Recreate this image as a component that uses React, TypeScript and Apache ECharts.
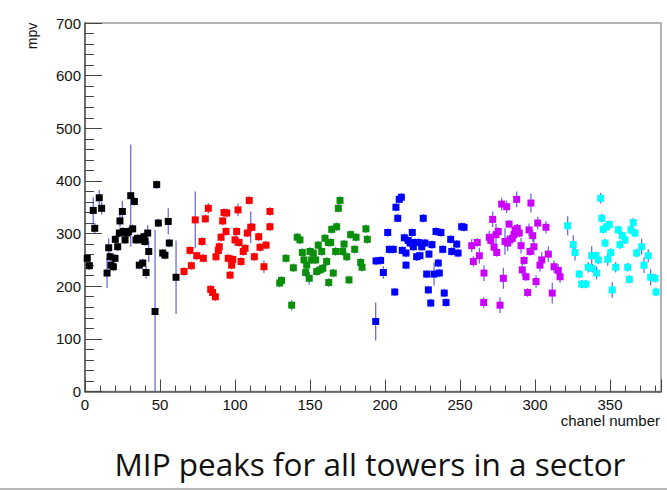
import React, { useEffect, useRef } from "react";
import * as echarts from "echarts";

// [channel, mpv, error]
const blackPts: [number, number, number][] = [
  [1.5, 253, 8], [2.9, 239, 8], [5.5, 344, 25], [6.5, 310, 10], [9.5, 368, 15], [11.1, 348, 12],
  [14.7, 225, 28], [15.8, 273, 18], [16.7, 256, 8], [17.3, 240, 8], [18.9, 237, 8], [20, 253, 8],
  [20.2, 289, 8], [21.8, 275, 8], [22.9, 301, 8], [23.3, 324, 12], [24.9, 342, 20], [25.5, 304, 8],
  [26.7, 288, 8], [27.8, 301, 8], [28.9, 304, 8], [30.5, 372, 97], [31.8, 309, 8], [32.9, 361, 8],
  [34, 288, 8], [35.1, 291, 8], [36.2, 240, 8], [37.8, 288, 8], [38.5, 244, 8], [39.3, 294, 8],
  [40, 285, 8], [40.7, 226, 12], [41.8, 301, 15], [42.5, 266, 20], [46.7, 152, 155], [47.8, 393, 8],
  [48.9, 320, 8], [51.8, 263, 8], [53.3, 259, 8], [55.5, 323, 25], [56.2, 282, 8], [60.7, 217, 70],
];
const redPts: [number, number, number][] = [
  [66, 228, 8], [70, 268, 8], [70.9, 239, 8], [73.5, 326, 54], [74.5, 258, 8], [78, 285, 8],
  [78.9, 253, 8], [80.2, 328, 8], [82.2, 348, 10], [83.8, 194, 8], [85.1, 188, 8], [86.9, 180, 8],
  [87.3, 256, 8], [88.9, 268, 8], [89.5, 275, 8], [90.7, 293, 8], [91.8, 324, 8], [92.7, 340, 8],
  [94.5, 339, 8], [94, 304, 8], [95.5, 253, 8], [97.8, 240, 8], [98.5, 251, 8], [96.7, 221, 8],
  [100, 288, 12], [101.1, 304, 8], [102, 345, 12], [102.7, 283, 8], [104, 247, 8], [105.5, 266, 8],
  [106.7, 272, 8], [108.2, 301, 8], [109.5, 363, 8], [110.5, 312, 30], [111.3, 312, 8], [112.9, 256, 8],
  [115.8, 294, 8], [116.7, 274, 8], [119.3, 237, 12], [120.7, 278, 8], [123.3, 342, 8], [123.3, 313, 8],
];
const greenPts: [number, number, number][] = [
  [129.8, 206, 8], [131, 211, 8], [134, 253, 8], [137.8, 164, 10], [138.9, 235, 8], [141.5, 293, 8],
  [143.3, 288, 8], [144.9, 264, 8], [146, 250, 8], [147.1, 226, 8], [147.8, 240, 8], [149.5, 215, 12],
  [150, 266, 8], [151.1, 250, 8], [152.2, 263, 8], [153.8, 250, 8], [154.5, 228, 8], [155.5, 278, 8],
  [156.7, 231, 8], [157.8, 266, 8], [158.5, 234, 8], [160, 291, 8], [161.1, 247, 8], [162.2, 283, 8],
  [162.5, 207, 8], [163.8, 283, 8], [164.5, 308, 8], [165.5, 225, 8], [167.1, 266, 8], [167.8, 313, 8],
  [168.9, 348, 8], [170, 363, 8], [171.8, 266, 8], [172.7, 280, 8], [174.5, 256, 8], [176, 212, 8],
  [177.1, 298, 8], [179.8, 270, 8], [180.7, 293, 8], [183.8, 245, 8], [184.7, 236, 8], [187.3, 309, 8],
  [188.2, 289, 8],
];
const bluePts: [number, number, number][] = [
  [193.8, 133, 36], [194, 248, 8], [197.1, 249, 8], [198.9, 226, 12], [201.8, 302, 8], [202.9, 270, 8],
  [205.5, 270, 8], [206.5, 189, 8], [207.3, 350, 8], [208.5, 329, 8], [209.5, 365, 8], [210.9, 369, 8],
  [211.5, 268, 8], [212.9, 292, 8], [214, 263, 8], [214, 240, 8], [215.5, 287, 8], [216.7, 282, 8],
  [218.2, 302, 8], [218.9, 275, 8], [220, 283, 8], [221.1, 256, 8], [222.2, 283, 8], [223.3, 258, 8],
  [224.5, 275, 8], [225.5, 329, 8], [226.7, 282, 8], [227.8, 223, 8], [228.9, 193, 8], [229.3, 261, 8],
  [230.5, 168, 8], [231.3, 279, 8], [232.7, 223, 22], [234, 304, 8], [235.5, 244, 8], [236.2, 225, 8],
  [237.3, 302, 8], [238.5, 270, 8], [239.5, 187, 8], [240.7, 169, 8], [243.8, 289, 8], [244.5, 266, 8],
  [247.8, 280, 8], [248.7, 263, 8], [251.1, 313, 8], [252.7, 312, 8],
];
const magentaPts: [number, number, number][] = [
  [257.8, 277, 12], [258.9, 247, 10], [261.5, 283, 8], [262.9, 258, 15], [266, 225, 15], [265.8, 169, 10],
  [269.5, 293, 12], [270.5, 287, 8], [271.8, 327, 15], [272.7, 274, 8], [274, 298, 20], [274.5, 264, 8],
  [275.5, 304, 8], [276.7, 164, 15], [277.8, 356, 12], [278.9, 215, 20], [280, 285, 25], [281.1, 351, 12],
  [281.8, 282, 15], [282.7, 318, 8], [283.3, 288, 8], [284.9, 291, 8], [286, 298, 8], [286.7, 307, 8],
  [287.8, 365, 15], [288.2, 310, 8], [289.5, 301, 8], [290.7, 277, 15], [291.5, 231, 12], [292.7, 249, 8],
  [294, 218, 8], [295.1, 188, 8], [296, 307, 12], [296.7, 266, 8], [297.3, 358, 18], [298.5, 296, 12],
  [299.3, 275, 15], [300.7, 209, 12], [301.8, 320, 12], [303.3, 240, 12], [304.5, 250, 15], [307.3, 312, 12],
  [308.9, 261, 15], [311.5, 187, 20], [312.7, 237, 12], [315.5, 230, 12], [316.7, 218, 12],
];
const cyanPts: [number, number, number][] = [
  [321.8, 315, 18], [325.5, 279, 18], [326.7, 264, 15], [329.5, 223, 8], [331.1, 204, 8], [334, 204, 8],
  [335.5, 236, 10], [337.8, 258, 18], [338.2, 234, 8], [340.7, 258, 8], [341.1, 225, 12], [342.2, 250, 8],
  [343.8, 367, 10], [344.5, 329, 8], [345.5, 308, 8], [346.7, 282, 8], [347.8, 313, 8], [348.5, 251, 12],
  [349.5, 317, 8], [350.5, 264, 8], [351.5, 193, 15], [353.8, 236, 10], [355.5, 307, 8], [356.7, 279, 8],
  [358.2, 296, 8], [360, 288, 8], [361.8, 236, 8], [362.9, 213, 8], [364, 307, 8], [365.5, 321, 8],
  [366.7, 301, 8], [367.8, 263, 8], [371.1, 275, 15], [372.7, 240, 15], [375.5, 258, 12], [377.1, 217, 15],
  [380, 215, 8], [380.7, 189, 8],
];

const groups = [
  { name: "black", color: "#000000", pts: blackPts },
  { name: "red", color: "#ff0000", pts: redPts },
  { name: "green", color: "#0a8f0a", pts: greenPts },
  { name: "blue", color: "#0000ff", pts: bluePts },
  { name: "magenta", color: "#cc00ff", pts: magentaPts },
  { name: "cyan", color: "#00ffff", pts: cyanPts },
];

const X_MIN = 0;
const X_MAX = 384;
const Y_MIN = 0;
const Y_MAX = 700;
const FONT = "'Liberation Sans', Arial, Helvetica, sans-serif";

export default function App() {
  const ref = useRef<HTMLDivElement>(null);
  useEffect(() => {
    if (!ref.current) return;
    const chart = echarts.init(ref.current, undefined, { renderer: "svg" });
    const errSeries = groups.map((g) => ({
      type: "custom",
      name: g.name + "-err",
      xAxisIndex: 0,
      yAxisIndex: 0,
      data: g.pts,
      encode: { x: 0, y: 1 },
      z: 2,
      renderItem: (_params: any, api: any) => {
        const x = api.value(0);
        const y = api.value(1);
        const e = api.value(2);
        const p1 = api.coord([x, Math.min(Y_MAX, y + e)]);
        const p2 = api.coord([x, Math.max(Y_MIN, y - e)]);
        return {
          type: "line",
          shape: { x1: p1[0], y1: p1[1], x2: p2[0], y2: p2[1] },
          style: { stroke: "#2b2bd0", lineWidth: 1.2, opacity: 0.75 },
        };
      },
    }));
    const ptSeries = groups.map((g) => ({
      type: "scatter",
      name: g.name,
      xAxisIndex: 0,
      yAxisIndex: 0,
      data: g.pts.map((p) => [p[0], p[1]]),
      symbol: "rect",
      symbolSize: 7,
      itemStyle: { color: g.color, opacity: 1 },
      z: 3,
    }));
    chart.setOption({
      animation: false,
      grid: {
        left: 85,
        top: 23,
        right: 6,
        bottom: 98.5,
        show: true,
        borderColor: "#999999",
        borderWidth: 1.5,
        backgroundColor: "transparent",
      },
      xAxis: [
        {
          type: "value",
          min: X_MIN,
          max: X_MAX,
          interval: 50,
          position: "bottom",
          axisLine: { show: true, onZero: false, lineStyle: { color: "#555", width: 1.5 } },
          axisTick: { show: true, inside: true, length: 12, lineStyle: { color: "#444", width: 1 } },
          axisLabel: {
            show: true,
            fontSize: 15,
            color: "#111",
            fontFamily: FONT,
            margin: 5,
            formatter: (v: number) => (v % 50 === 0 ? String(v) : ""),
          },
          splitLine: { show: false },
        },
        {
          type: "value",
          min: X_MIN,
          max: X_MAX,
          interval: 10,
          position: "bottom",
          axisLine: { show: false, onZero: false },
          axisTick: { show: true, inside: true, length: 6, lineStyle: { color: "#444", width: 1 } },
          axisLabel: { show: false },
          splitLine: { show: false },
        },
      ],
      yAxis: [
        {
          type: "value",
          min: Y_MIN,
          max: Y_MAX,
          interval: 100,
          position: "left",
          axisLine: { show: true, onZero: false, lineStyle: { color: "#555", width: 1.5 } },
          axisTick: { show: true, inside: true, length: 17, lineStyle: { color: "#444", width: 1 } },
          axisLabel: { show: true, fontSize: 15, color: "#111", fontFamily: FONT, margin: 4 },
          splitLine: { show: false },
        },
        {
          type: "value",
          min: Y_MIN,
          max: Y_MAX,
          interval: 20,
          position: "left",
          axisLine: { show: false, onZero: false },
          axisTick: { show: true, inside: true, length: 9, lineStyle: { color: "#444", width: 1 } },
          axisLabel: { show: false },
          splitLine: { show: false },
        },
      ],
      graphic: [
        {
          type: "text",
          x: 32,
          y: 36,
          rotation: Math.PI / 2,
          style: {
            text: "mpv",
            fontSize: 14,
            fontFamily: FONT,
            fill: "#111",
            align: "center",
            verticalAlign: "middle",
          },
        },
        {
          type: "text",
          x: 660,
          y: 420,
          style: {
            text: "chanel number",
            fontSize: 15,
            fontFamily: FONT,
            fill: "#111",
            align: "right",
            verticalAlign: "middle",
          },
        },
        {
          type: "text",
          x: 370,
          y: 463,
          style: {
            text: "MIP peaks for all towers in a sector",
            fontSize: 31.5,
            fontFamily: "'Open Sans', 'Noto Sans', sans-serif",
            fill: "#111",
            align: "center",
            verticalAlign: "middle",
          },
        },
        {
          type: "line",
          shape: { x1: 0, y1: 489, x2: 667, y2: 489 },
          style: { stroke: "#a0a0a0", lineWidth: 1.5 },
        },
      ],
      series: [...errSeries, ...ptSeries],
    });
    return () => chart.dispose();
  }, []);
  return (
    <div
      ref={ref}
      style={{ position: "absolute", left: 0, top: 0, width: 667, height: 490, background: "#fff" }}
    />
  );
}
